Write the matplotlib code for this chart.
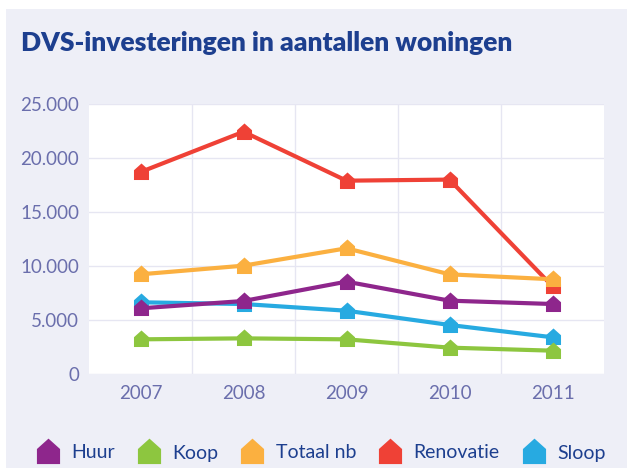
import numpy as np
import matplotlib.pyplot as plt
from matplotlib.path import Path
from matplotlib.lines import Line2D
from matplotlib.patches import Rectangle
from matplotlib.ticker import FuncFormatter

# data (aantallen woningen)
jaren = ['2007', '2008', '2009', '2010', '2011']
huur = [6080, 6760, 8550, 6790, 6480]
koop = [3210, 3300, 3210, 2440, 2160]
totaal_nb = [9230, 10030, 11640, 9230, 8770]
renovatie = [18700, 22430, 17900, 18000, 8120]
sloop = [6640, 6480, 5860, 4540, 3400]

namen = ['Huur', 'Koop', 'Totaal nb', 'Renovatie', 'Sloop']
reeksen = [huur, koop, totaal_nb, renovatie, sloop]
kleuren = ['#8e268c', '#8dc63f', '#fbb040', '#ef4136', '#27aae1']

titel_kleur = '#1d3f8f'
tick_kleur = '#6a6eac'
achtergrond = '#eeeff7'

plt.rcParams['font.family'] = ['Lato', 'DejaVu Sans']

# huisje als marker
huis = Path([(-0.5, -0.5), (0.5, -0.5), (0.5, 0.15), (0.0, 0.6), (-0.5, 0.15), (-0.5, -0.5)],
            [Path.MOVETO, Path.LINETO, Path.LINETO, Path.LINETO, Path.LINETO, Path.CLOSEPOLY])

fig = plt.figure(figsize=(6.27, 4.68), dpi=100)
fig.patch.set_facecolor('white')
fig.patches.append(Rectangle((6/627, 0), 1, 1 - 9/468, transform=fig.transFigure,
                             facecolor=achtergrond, edgecolor='none', zorder=-10))

ax = fig.add_axes([89/627, 1 - 374/468, 515/627, 270/468])
ax.set_facecolor('white')
for s in ax.spines.values():
    s.set_visible(False)

x = np.arange(len(jaren))
# omgekeerde volgorde zodat Huur bovenop ligt
for naam, y, kleur in reversed(list(zip(namen, reeksen, kleuren))):
    ax.plot(x, y, color=kleur, lw=3, marker=huis, markersize=13, mew=0,
            solid_joinstyle='miter')

ax.set_xlim(-0.5, 4.5)
ax.set_ylim(0, 25000)
ax.set_xticks(x)
ax.set_xticklabels(jaren)
ax.set_xticks([0.5, 1.5, 2.5, 3.5], minor=True)
ax.set_yticks(np.arange(0, 25001, 5000))
ax.yaxis.set_major_formatter(FuncFormatter(lambda v, p: f'{int(v):,}'.replace(',', '.')))
ax.tick_params(axis='both', which='both', length=0, labelsize=13.5, labelcolor=tick_kleur)
ax.tick_params(axis='y', pad=7)
ax.tick_params(axis='x', pad=8)
ax.grid(True, axis='y', which='major', color='#e6e6f2', lw=1)
ax.grid(True, axis='x', which='minor', color='#e6e6f2', lw=1)
ax.set_axisbelow(True)

fig.text(21/627, 1 - 43/468, 'DVS-investeringen in aantallen woningen', fontsize=19,
         fontweight='heavy', color=titel_kleur, va='center', ha='left')

handles = [Line2D([], [], ls='none', marker=huis, markersize=20, mew=0, color=k) for k in kleuren]
fig.legend(handles, namen, loc='center', bbox_to_anchor=(321/627, 1 - 453/468), ncol=5,
           frameon=False, fontsize=14, labelcolor=titel_kleur, handlelength=1.2,
           handletextpad=0.6, columnspacing=1.15)

fig.savefig('out.png', dpi=100, facecolor=fig.get_facecolor())
